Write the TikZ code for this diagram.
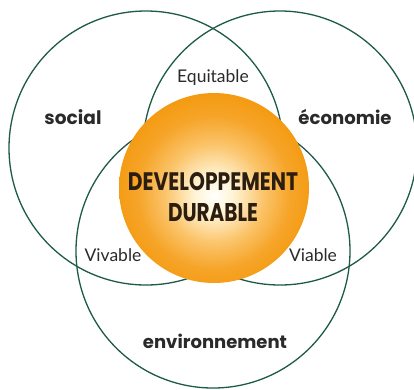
\documentclass[tikz,border=0pt]{standalone}
\usepackage{fontspec}
\usepackage{graphicx}
\setmainfont{Lato}
\newfontfamily\headfont{Poppins}
\definecolor{ringgreen}{HTML}{1D5A48}
\definecolor{txtgray}{HTML}{2A2A2A}
\definecolor{ddtext}{HTML}{2B1D10}
\definecolor{orA}{HTML}{FFF4D6}
\definecolor{orB}{HTML}{FBC46A}
\definecolor{orC}{HTML}{F6A52A}
\definecolor{orD}{HTML}{F29300}
\pgfdeclareradialshading{ddball}{\pgfpoint{0bp}{-2bp}}{color(0bp)=(white); color(5bp)=(orA); color(13bp)=(orB); color(20bp)=(orC); color(30bp)=(orD); color(50bp)=(orD)}
\newcommand{\fitw}[2]{\resizebox{#1}{!}{#2}}
\tikzset{
  ring/.style={draw=ringgreen, line width=1.3pt},
  domlabel/.style={text=txtgray, font=\headfont\bfseries, inner sep=0pt},
  quality/.style={text=txtgray, font=\fontsize{17.5}{19}\selectfont, inner sep=0pt},
  ddlabel/.style={text=ddtext, font=\headfont\bfseries, inner sep=0pt}
}
\begin{document}
\begin{tikzpicture}[x=1pt,y=-1pt]
\useasboundingbox (0,0) rectangle (414,389);
\clip (0,0) rectangle (414,389);
\fill[white] (0,0) rectangle (414,389);
% three rings
\coordinate (cS) at (146,148);
\coordinate (cE) at (280,148);
\coordinate (cV) at (213,251);
\draw[ring] (cS) circle (137);
\draw[ring] (cE) circle (137);
\draw[ring] (cV) circle (137);
% central ball
\coordinate (cB) at (214,188);
\shade[shading=ddball] (cB) circle (95);
% labels
\node[ddlabel] (dd1) at (213,182) {\resizebox{170pt}{18pt}{DEVELOPPEMENT}};
\node[ddlabel] (dd2) at (213,213) {\resizebox{90pt}{18pt}{DURABLE}};
\node[domlabel] (soc) at (73,117) {\fitw{57pt}{social}};
\node[domlabel] (eco) at (345,117) {\fitw{93pt}{économie}};
\node[domlabel] (env) at (215,341) {\fitw{144pt}{environnement}};
\node[quality] (equ) at (213,78) {Equitable};
\node[quality] (viv) at (113,255) {Vivable};
\node[quality] (via) at (313,255) {Viable};
\end{tikzpicture}
\end{document}
